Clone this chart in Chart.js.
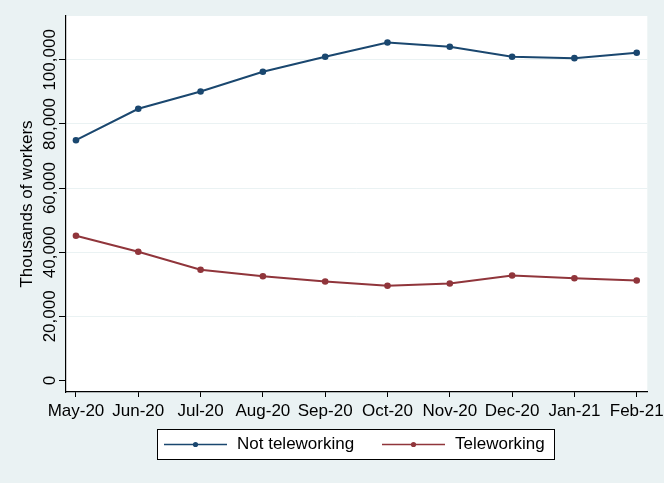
<!DOCTYPE html>
<html lang="en">
<head>
  <meta charset="UTF-8" />
  <title>Teleworking</title>
  <script src="https://cdn.jsdelivr.net/npm/chart.js"></script>
  <style>
    html, body { margin: 0; padding: 0; background: #eaf2f3; overflow: hidden; }
    canvas { display: block; }
  </style>
</head>
<body>
  <canvas id="chart" width="664" height="483"></canvas>

  <script>
    const months = ['May-20', 'Jun-20', 'Jul-20', 'Aug-20', 'Sep-20', 'Oct-20', 'Nov-20', 'Dec-20', 'Jan-21', 'Feb-21'];
    const notTeleworking = [74950, 84740, 90140, 96280, 100960, 105420, 104080, 100960, 100530, 102200];
    const teleworking = [45130, 40140, 34530, 32530, 30880, 29530, 30250, 32750, 31910, 31190];
    const yTicks = [0, 20000, 40000, 60000, 80000, 100000];

    const BG = '#eaf2f3';
    const BLUE = '#1a476f';
    const RED = '#90353b';
    const FONT = "'Liberation Sans', Arial, sans-serif";

    // background + white plot region
    const bgPlugin = {
      id: 'bg',
      beforeDraw(chart) {
        const { ctx, chartArea: a } = chart;
        ctx.save();
        ctx.fillStyle = BG;
        ctx.fillRect(0, 0, chart.width, chart.height);
        ctx.fillStyle = '#fff';
        ctx.fillRect(a.left, a.top, a.right - a.left, a.bottom - a.top);
        ctx.restore();
      }
    };

    // boxed legend like the original
    const legendPlugin = {
      id: 'boxLegend',
      afterDraw(chart) {
        const ctx = chart.ctx;
        ctx.save();
        ctx.fillStyle = '#fff';
        ctx.fillRect(157, 429, 397, 30);
        ctx.strokeStyle = '#000';
        ctx.lineWidth = 1;
        ctx.strokeRect(157.5, 429.5, 397, 30);
        const starts = [164, 382];
        chart.data.datasets.forEach((ds, i) => {
          const x0 = starts[i], y = 444.5;
          ctx.strokeStyle = ds.borderColor;
          ctx.lineWidth = 1.6;
          ctx.beginPath();
          ctx.moveTo(x0, y);
          ctx.lineTo(x0 + 63, y);
          ctx.stroke();
          ctx.fillStyle = ds.borderColor;
          ctx.beginPath();
          ctx.arc(x0 + 31.5, y, 2.6, 0, Math.PI * 2);
          ctx.fill();
          ctx.fillStyle = '#000';
          ctx.font = '17px ' + FONT;
          ctx.textBaseline = 'middle';
          ctx.textAlign = 'left';
          ctx.fillText(ds.label, x0 + 73, y);
        });
        ctx.restore();
      }
    };

    new Chart(document.getElementById('chart'), {
      type: 'line',
      data: {
        datasets: [
          {
            label: 'Not teleworking',
            data: notTeleworking.map((v, i) => ({ x: i, y: v })),
            borderColor: BLUE,
            backgroundColor: BLUE,
            borderWidth: 2,
            pointRadius: 3.3,
            pointBorderWidth: 0,
            tension: 0
          },
          {
            label: 'Teleworking',
            data: teleworking.map((v, i) => ({ x: i, y: v })),
            borderColor: RED,
            backgroundColor: RED,
            borderWidth: 2,
            pointRadius: 3.3,
            pointBorderWidth: 0,
            tension: 0
          }
        ]
      },
      options: {
        responsive: false,
        animation: false,
        devicePixelRatio: 1,
        layout: { padding: { left: 0, top: 16, right: 16.7, bottom: 0 } },
        plugins: {
          legend: { display: false },
          tooltip: { enabled: false }
        },
        scales: {
          x: {
            type: 'linear',
            min: -0.16,
            max: 9.17,
            afterBuildTicks: axis => { axis.ticks = months.map((m, i) => ({ value: i })); },
            afterFit: axis => { axis.height = 91; axis.paddingLeft = 0; axis.paddingRight = 0; },
            ticks: {
              color: '#000',
              font: { family: FONT, size: 17 },
              padding: 4,
              maxRotation: 0,
              autoSkip: false,
              callback: v => months[v]
            },
            grid: { drawOnChartArea: false, tickLength: 5, tickColor: '#000' },
            border: { color: '#000', width: 1.2 }
          },
          y: {
            min: -3590,
            max: 113680,
            afterBuildTicks: axis => { axis.ticks = yTicks.map(v => ({ value: v })); },
            afterFit: axis => { axis.width = 66; axis.paddingTop = 0; axis.paddingBottom = 0; },
            title: {
              display: true,
              text: 'Thousands of workers',
              color: '#000',
              font: { family: FONT, size: 17 },
              padding: { top: 17, bottom: 0 }
            },
            ticks: {
              color: '#000',
              font: { family: FONT, size: 17 },
              minRotation: 90,
              maxRotation: 90,
              crossAlign: 'center',
              padding: -22.5,
              callback: v => v.toLocaleString('en-US')
            },
            grid: {
              tickLength: 7,
              tickColor: '#000',
              lineWidth: 1,
              color: ctx => (ctx.tick && ctx.tick.value === 0) ? 'rgba(0,0,0,0)' : BG
            },
            border: { color: '#000', width: 1.2 }
          }
        }
      },
      plugins: [bgPlugin, legendPlugin]
    });
  </script>
</body>
</html>
